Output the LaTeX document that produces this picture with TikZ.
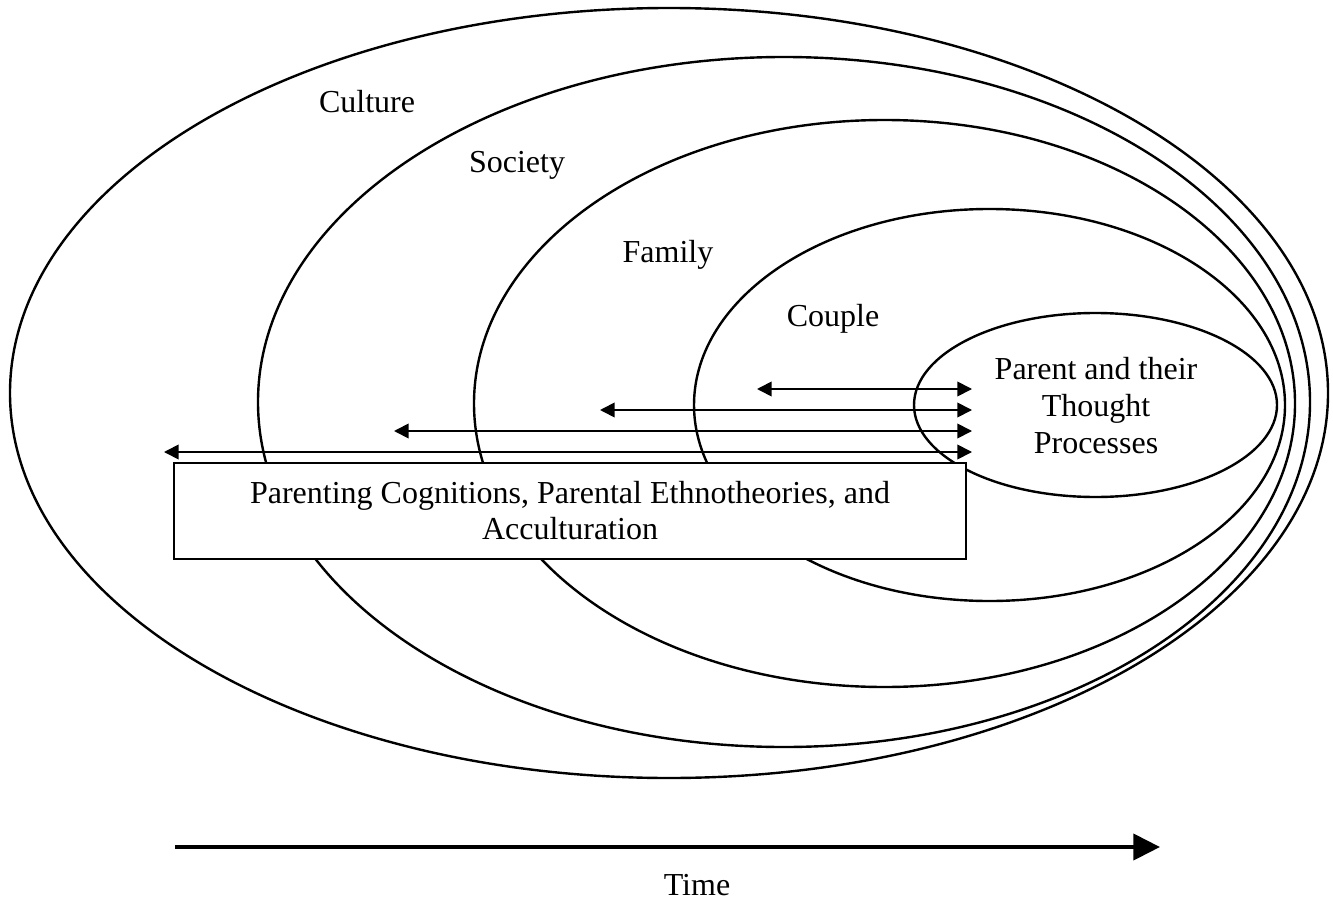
\documentclass[tikz,border=0pt]{standalone}
\usepackage{fontspec}
\setmainfont{Liberation Serif}
\usetikzlibrary{arrows.meta}
\begin{document}
\begin{tikzpicture}[x=0.75pt,y=-0.75pt,
  ring/.style={draw=black,line width=1.8pt},
  lbl/.style={font=\fontsize{24}{27.4}\selectfont,inner sep=0pt,anchor=base},
  link/.style={line width=1.3pt,{Triangle[length=11pt,width=11pt]}-{Triangle[length=11pt,width=11pt]}},
  boxnode/.style={draw=black,fill=white,line width=1.3pt,minimum width=594pt,minimum height=72pt,
    align=center,font=\fontsize{24}{27}\selectfont,inner sep=0pt},
  timearrow/.style={line width=3pt,-{Triangle[length=20pt,width=19.5pt]}}]
\useasboundingbox (0,0) rectangle (1333,902);

% nested contexts, outermost first
\draw[ring] (669,393) ellipse [x radius=659, y radius=385];
\draw[ring] (784,402) ellipse [x radius=526, y radius=345];
\draw[ring] (884.5,403.5) ellipse [x radius=410.5, y radius=283.5];
\draw[ring] (989.5,405) ellipse [x radius=295.5, y radius=196];
\draw[ring] (1095.5,405) ellipse [x radius=181.5, y radius=92];

% context labels
\node[lbl] (culture) at (367,113) {Culture};
\node[lbl] (society) at (517,173) {Society};
\node[lbl] (family)  at (668,262) {Family};
\node[lbl] (couple)  at (833,326) {Couple};
\node[lbl,align=center] (parent) at (1096,453) {Parent and their\\Thought\\Processes};

% two-way influences between each context and the parent
\coordinate (c1) at (757,389);  \coordinate (p1) at (972,389);
\coordinate (c2) at (600,410);  \coordinate (p2) at (972,410);
\coordinate (c3) at (394,431);  \coordinate (p3) at (972,431);
\coordinate (c4) at (164,452);  \coordinate (p4) at (972,452);
\draw[link] (c1) -- (p1);
\draw[link] (c2) -- (p2);
\draw[link] (c3) -- (p3);
\draw[link] (c4) -- (p4);

% summary box
\node[boxnode] (cog) at (570,511) {Parenting Cognitions, Parental Ethnotheories, and\\Acculturation};

% time axis
\coordinate (t0) at (175,847);
\coordinate (t1) at (1160,847);
\draw[timearrow] (t0) -- (t1);
\node[lbl] (time) at (697,895) {Time};
\end{tikzpicture}
\end{document}
